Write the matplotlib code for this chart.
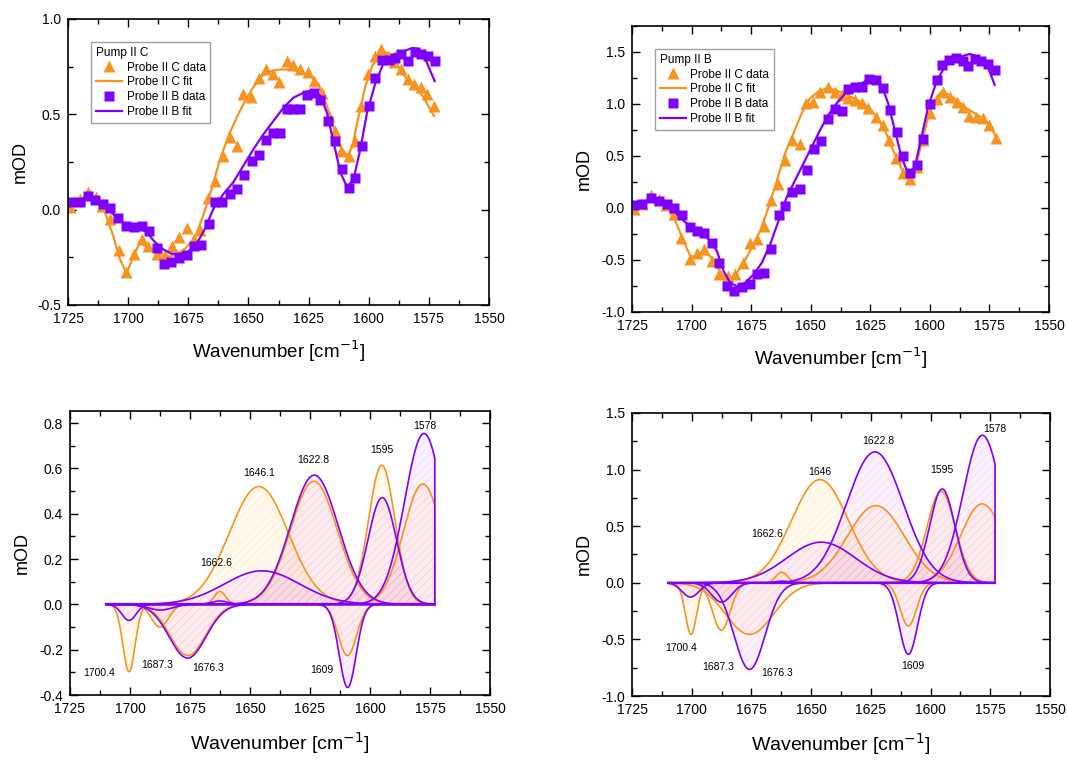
import numpy as np
import matplotlib
matplotlib.use("Agg")
import matplotlib.pyplot as plt
from matplotlib.ticker import MultipleLocator

plt.rcParams['font.family'] = ['Liberation Sans', 'DejaVu Sans']
plt.rcParams['hatch.linewidth'] = 0.5
plt.rcParams['axes.unicode_minus'] = False

ORANGE = '#f7931e'
PURPLE = '#8000ff'

# ---------- top left: Pump II C ----------
tl_c_x = [1724.3, 1720.1, 1716.7, 1713.5, 1710.7, 1707.4, 1703.8, 1700.7, 1697.6, 1694.4,
          1691.7, 1688.2, 1684.7, 1681.7, 1678.9, 1675.7, 1672.6, 1670.1, 1667.0, 1663.9,
          1660.7, 1657.6, 1654.9, 1652.1, 1648.9, 1645.8, 1642.8, 1640.0, 1637.2, 1634.0,
          1631.3, 1628.5, 1625.4, 1622.6, 1619.4, 1616.7, 1614.2, 1611.4, 1608.3, 1605.8,
          1603.1, 1600.4, 1597.6, 1594.9, 1592.0, 1589.3, 1586.5, 1583.6, 1581.0, 1578.2,
          1575.7, 1572.9]
tl_c_y = [0.012, 0.056, 0.09, 0.064, 0.017, -0.052, -0.214, -0.328, -0.232, -0.157,
          -0.19, -0.232, -0.237, -0.19, -0.145, -0.096, -0.153, -0.105, 0.059, 0.152,
          0.282, 0.378, 0.331, 0.608, 0.592, 0.692, 0.735, 0.713, 0.669, 0.779,
          0.756, 0.735, 0.721, 0.674, 0.61, 0.491, 0.413, 0.308, 0.282, 0.361,
          0.544, 0.709, 0.805, 0.84, 0.805, 0.774, 0.735, 0.683, 0.657, 0.645,
          0.605, 0.544]
tl_cfit_x = [1725.0, 1720.1, 1716.7, 1713.2, 1709.7, 1706.3, 1703.5, 1700.7, 1697.9, 1695.1,
             1692.4, 1688.2, 1684.0, 1680.6, 1676.4, 1672.2, 1668.8, 1665.3, 1661.8, 1658.3,
             1654.9, 1651.4, 1647.9, 1644.4, 1641.0, 1636.8, 1632.6, 1628.5, 1624.3, 1620.8,
             1617.4, 1613.9, 1611.1, 1609.0, 1606.9, 1604.2, 1601.4, 1598.6, 1595.1, 1593.1,
             1591.0, 1588.2, 1584.0, 1579.9, 1577.1, 1572.9]
tl_cfit_y = [0.003, 0.047, 0.082, 0.047, -0.014, -0.136, -0.258, -0.336, -0.249, -0.171,
             -0.197, -0.223, -0.249, -0.240, -0.206, -0.145, -0.031, 0.108, 0.265, 0.387,
             0.483, 0.570, 0.645, 0.700, 0.726, 0.735, 0.735, 0.726, 0.700, 0.657,
             0.544, 0.404, 0.317, 0.282, 0.326, 0.491, 0.648, 0.753, 0.814, 0.826,
             0.814, 0.753, 0.683, 0.631, 0.587, 0.491]
tl_b_x = [1723.6, 1720.1, 1716.9, 1713.6, 1710.4, 1707.4, 1704.2, 1700.7, 1697.6, 1694.4,
          1691.3, 1688.2, 1685.0, 1682.0, 1678.8, 1675.7, 1672.6, 1669.7, 1666.4, 1663.9,
          1660.8, 1657.6, 1654.6, 1651.8, 1648.6, 1645.6, 1642.6, 1639.6, 1636.8, 1633.8,
          1631.3, 1628.5, 1625.7, 1622.6, 1620.1, 1617.1, 1614.2, 1611.1, 1608.3, 1605.6,
          1602.8, 1600.0, 1597.2, 1594.4, 1591.7, 1588.9, 1586.4, 1583.8, 1580.8, 1578.1,
          1575.3, 1572.6]
tl_b_y = [0.038, 0.042, 0.073, 0.052, 0.030, 0.007, -0.045, -0.087, -0.092, -0.084,
          -0.115, -0.202, -0.284, -0.275, -0.254, -0.240, -0.193, -0.188, -0.075, 0.042,
          0.042, 0.082, 0.108, 0.183, 0.256, 0.287, 0.364, 0.401, 0.401, 0.526,
          0.530, 0.530, 0.599, 0.613, 0.575, 0.465, 0.361, 0.213, 0.113, 0.164,
          0.334, 0.544, 0.692, 0.784, 0.787, 0.796, 0.814, 0.779, 0.826, 0.814,
          0.805, 0.779]
tl_bfit_x = [1725.0, 1720.1, 1716.7, 1713.2, 1709.0, 1705.1, 1700.7, 1696.5, 1692.4, 1688.9,
             1685.4, 1682.0, 1678.5, 1675.0, 1671.5, 1668.1, 1664.6, 1660.4, 1656.3, 1652.1,
             1647.9, 1643.8, 1639.6, 1635.4, 1631.3, 1627.1, 1622.9, 1620.1, 1617.4, 1614.6,
             1611.8, 1609.0, 1606.3, 1603.5, 1600.7, 1597.2, 1593.8, 1589.6, 1585.4, 1581.9,
             1579.2, 1576.4, 1572.6]
tl_bfit_y = [0.038, 0.052, 0.064, 0.052, 0.012, -0.040, -0.080, -0.092, -0.118, -0.171,
             -0.209, -0.232, -0.232, -0.220, -0.179, -0.101, 0.003, 0.082, 0.143, 0.230,
             0.317, 0.395, 0.465, 0.535, 0.587, 0.613, 0.627, 0.596, 0.509, 0.352,
             0.195, 0.117, 0.160, 0.317, 0.509, 0.666, 0.770, 0.814, 0.831, 0.848,
             0.843, 0.787, 0.674]

# ---------- top right: Pump II B ----------
tr_c_x = [1724.3, 1720.8, 1717.0, 1713.8, 1710.6, 1707.5, 1704.3, 1700.8, 1697.8, 1694.6,
          1691.5, 1688.4, 1684.9, 1681.7, 1678.6, 1675.7, 1672.6, 1669.8, 1666.8, 1663.8,
          1660.8, 1657.7, 1654.7, 1651.9, 1648.9, 1646.1, 1642.9, 1639.8, 1637.0, 1634.2,
          1631.4, 1628.6, 1625.8, 1622.8, 1619.8, 1617.2, 1614.4, 1611.2, 1608.4, 1605.6,
          1602.8, 1600.0, 1597.2, 1594.4, 1591.6, 1588.6, 1586.0, 1583.5, 1580.7, 1577.9,
          1575.1, 1572.3]
tr_c_y = [-0.01, 0.039, 0.126, 0.087, 0.029, -0.058, -0.284, -0.494, -0.429, -0.397,
          -0.510, -0.639, -0.655, -0.639, -0.526, -0.332, -0.294, -0.171, 0.077, 0.232,
          0.458, 0.658, 0.619, 1.013, 1.023, 1.119, 1.161, 1.119, 1.087, 1.055,
          1.039, 1.006, 0.965, 0.877, 0.797, 0.652, 0.484, 0.335, 0.281, 0.394,
          0.652, 0.910, 1.045, 1.119, 1.071, 1.023, 0.974, 0.884, 0.871, 0.861,
          0.797, 0.677]
tr_cfit_x = [1725.0, 1720.8, 1717.3, 1713.8, 1710.3, 1706.8, 1703.4, 1700.6, 1697.8, 1695.0,
             1692.2, 1689.4, 1686.6, 1683.8, 1681.0, 1678.2, 1674.7, 1671.2, 1667.7, 1664.2,
             1660.8, 1657.3, 1653.8, 1650.3, 1646.8, 1643.3, 1639.8, 1636.3, 1632.8, 1629.3,
             1625.8, 1622.3, 1618.9, 1615.4, 1611.9, 1609.1, 1606.3, 1603.5, 1600.7, 1597.9,
             1595.1, 1591.6, 1588.1, 1584.6, 1581.1, 1577.6, 1574.8, 1572.3]
tr_cfit_y = [0.006, 0.045, 0.097, 0.071, 0.006, -0.123, -0.316, -0.461, -0.471, -0.429,
             -0.461, -0.558, -0.655, -0.687, -0.623, -0.526, -0.381, -0.219, 0.006, 0.265,
             0.523, 0.716, 0.910, 1.055, 1.119, 1.152, 1.135, 1.103, 1.065, 1.023,
             0.968, 0.877, 0.748, 0.555, 0.377, 0.281, 0.361, 0.619, 0.877, 1.039,
             1.119, 1.087, 1.023, 0.958, 0.910, 0.861, 0.797, 0.684]
tr_b_x = [1724.3, 1720.8, 1717.0, 1713.8, 1710.3, 1707.3, 1704.1, 1700.8, 1697.8, 1694.6,
          1691.5, 1688.3, 1685.2, 1682.0, 1678.9, 1675.7, 1672.6, 1669.8, 1666.8, 1663.5,
          1660.8, 1657.7, 1654.7, 1651.7, 1648.6, 1645.8, 1642.9, 1639.8, 1637.0, 1634.2,
          1631.4, 1628.4, 1625.4, 1622.6, 1619.8, 1616.8, 1613.9, 1611.2, 1608.4, 1605.6,
          1602.8, 1600.0, 1597.2, 1594.7, 1591.9, 1589.1, 1586.3, 1583.9, 1581.1, 1578.4,
          1575.6, 1572.8]
tr_b_y = [0.032, 0.039, 0.094, 0.071, 0.039, 0.0, -0.065, -0.187, -0.226, -0.245,
          -0.332, -0.532, -0.752, -0.794, -0.758, -0.729, -0.639, -0.626, -0.397, -0.065,
          0.023, 0.152, 0.184, 0.361, 0.571, 0.642, 0.852, 0.952, 0.932, 1.145,
          1.161, 1.168, 1.239, 1.232, 1.152, 0.942, 0.726, 0.497, 0.339, 0.410,
          0.668, 0.997, 1.232, 1.377, 1.426, 1.442, 1.410, 1.361, 1.432, 1.410,
          1.387, 1.323]
tr_bfit_x = [1725.0, 1720.8, 1717.3, 1713.8, 1710.3, 1706.8, 1703.4, 1699.9, 1696.4, 1692.9,
             1689.4, 1686.6, 1683.8, 1681.0, 1677.5, 1674.0, 1670.5, 1667.0, 1663.5, 1660.1,
             1656.6, 1653.1, 1649.6, 1646.1, 1642.6, 1639.1, 1634.9, 1630.7, 1626.5, 1623.0,
             1620.3, 1617.5, 1614.7, 1611.9, 1609.1, 1606.3, 1603.5, 1600.7, 1597.2, 1593.7,
             1590.2, 1586.7, 1583.2, 1579.8, 1576.3, 1572.8]
tr_bfit_y = [0.032, 0.045, 0.094, 0.065, 0.023, -0.042, -0.123, -0.187, -0.235, -0.300,
             -0.413, -0.606, -0.719, -0.752, -0.719, -0.639, -0.526, -0.348, -0.123, 0.103,
             0.265, 0.426, 0.587, 0.748, 0.894, 1.006, 1.119, 1.174, 1.226, 1.232,
             1.184, 1.006, 0.748, 0.490, 0.329, 0.394, 0.684, 0.974, 1.216, 1.361,
             1.426, 1.458, 1.481, 1.458, 1.394, 1.184]

# ---------- bottom: band components (centre, amplitude, FWHM) ----------
band_labels_l = ['1700.4', '1687.3', '1676.3', '1662.6', '1646.1', '1622.8', '1609', '1595', '1578']
band_labels_r = ['1700.4', '1687.3', '1676.3', '1662.6', '1646', '1622.8', '1609', '1595', '1578']

bl_c_pos = [1700.4, 1687.5, 1675.9, 1662.5, 1646.3, 1623.4, 1609.4, 1595.1, 1578.0]
bl_c_amp = [-0.297, -0.10, -0.226, 0.057, 0.52, 0.543, -0.226, 0.614, 0.531]
bl_c_fwhm = [6.0, 8.5, 17.5, 5.5, 29.0, 23.0, 9.0, 13.0, 19.0]
bl_b_pos = [1700.4, 1687.3, 1676.0, 1662.6, 1645.0, 1623.2, 1609.3, 1594.9, 1577.5]
bl_b_amp = [-0.071, -0.025, -0.237, 0.015, 0.148, 0.570, -0.367, 0.471, 0.754]
bl_b_fwhm = [7.0, 12.0, 18.0, 8.0, 37.0, 23.5, 8.3, 14.0, 19.0]

br_c_pos = [1700.3, 1687.6, 1675.8, 1662.3, 1646.3, 1622.9, 1609.3, 1595.6, 1578.4]
br_c_amp = [-0.456, -0.418, -0.456, 0.094, 0.912, 0.682, -0.382, 0.809, 0.697]
br_c_fwhm = [5.6, 8.8, 23.7, 5.6, 28.0, 28.0, 8.1, 14.0, 21.0]
br_b_pos = [1700.5, 1687.5, 1675.8, 1662.3, 1645.8, 1623.3, 1609.3, 1595.1, 1578.3]
br_b_amp = [-0.126, -0.171, -0.765, 0.015, 0.359, 1.156, -0.632, 0.829, 1.303]
br_b_fwhm = [8.4, 10.0, 15.3, 6.0, 34.0, 28.0, 9.0, 12.5, 19.0]

# label positions (wavenumber, mOD)
bl_lab_x = [1712.8, 1688.5, 1667.4, 1663.9, 1646.1, 1623.6, 1620.1, 1595.1, 1577.1]
bl_lab_y = [-0.305, -0.269, -0.279, 0.181, 0.580, 0.636, -0.290, 0.682, 0.787]
br_lab_x = [1704.4, 1688.8, 1664.3, 1668.5, 1646.2, 1621.9, 1607.6, 1595.3, 1573.0]
br_lab_y = [-0.574, -0.741, -0.800, 0.435, 0.979, 1.256, -0.735, 0.994, 1.359]

band_start, band_end = 1710.0, 1573.0


def style_axes(ax, ylim, major, minor):
    ax.set_xlim(1725, 1550)
    ax.set_ylim(*ylim)
    ax.xaxis.set_major_locator(MultipleLocator(25))
    ax.xaxis.set_minor_locator(MultipleLocator(12.5))
    ax.yaxis.set_major_locator(MultipleLocator(major))
    ax.yaxis.set_minor_locator(MultipleLocator(minor))
    ax.tick_params(which='both', direction='in', top=True, right=True, labelsize=10)
    ax.tick_params(which='major', length=6, width=1, pad=5)
    ax.tick_params(which='minor', length=3.5, width=1)
    for s in ax.spines.values():
        s.set_linewidth(1.2)
    ax.set_ylabel('mOD', fontsize=13, labelpad=6)


def top_panel(ax, title, cx, cy, cfx, cfy, bx, by, bfx, bfy, ylim, major, minor):
    ax.plot(cx, cy, '^', color=ORANGE, ms=8, mec='none', label='Probe II C data')
    ax.plot(cfx, cfy, '-', color=ORANGE, lw=1.6, label='Probe II C fit')
    ax.plot(bx, by, 's', color=PURPLE, ms=6.5, mec='none', label='Probe II B data')
    ax.plot(bfx, bfy, '-', color=PURPLE, lw=1.6, label='Probe II B fit')
    style_axes(ax, ylim, major, minor)
    leg = ax.legend(title=title, loc='upper left', bbox_to_anchor=(0.055, 0.92),
                    fontsize=8.5, title_fontsize=8.5, alignment='left', fancybox=False,
                    edgecolor='#888888', handlelength=2.2, borderpad=0.4,
                    labelspacing=0.25, handletextpad=0.4, borderaxespad=0)
    leg.get_frame().set_linewidth(1.0)
    ax.set_xlabel('Wavenumber [cm$^{-1}$]', fontsize=13.5, labelpad=9)


def band_panel(ax, cpos, camp, cfw, bpos, bamp, bfw, labels, lx, ly, ylim, major, minor):
    x = np.linspace(band_start, band_end, 600)
    comps = [(p, a, f, ORANGE, (1.0, 0.82, 0.4)) for p, a, f in zip(cpos, camp, cfw)]
    comps += [(p, a, f, PURPLE, (0.88, 0.5, 0.95)) for p, a, f in zip(bpos, bamp, bfw)]
    for pos, amp, fw, col, face in comps:
        sig = fw / 2.3548
        y = amp * np.exp(-0.5 * ((x - pos) / sig) ** 2)
        ax.fill_between(x, y, 0, facecolor=face + (0.11,), edgecolor=face + (0.22,),
                        hatch='////', linewidth=0)
        ax.plot(np.r_[x, x[-1]], np.r_[y, 0], color=col, lw=1.2)
    ax.plot([band_start, band_end], [0, 0], color=ORANGE, lw=1.2)
    ax.plot([band_start, band_end], [0, 0], color=PURPLE, lw=1.6)
    for t, xx, yy in zip(labels, lx, ly):
        ax.text(xx, yy, t, fontsize=7.5, ha='center', va='center')
    style_axes(ax, ylim, major, minor)
    ax.set_xlabel('Wavenumber [cm$^{-1}$]', fontsize=14, labelpad=10)


fig = plt.figure(figsize=(10.68, 7.6), dpi=100)
ax1 = fig.add_axes([0.0637, 0.599, 0.3942, 0.376])
ax2 = fig.add_axes([0.5918, 0.5895, 0.3904, 0.3763])
ax3 = fig.add_axes([0.0655, 0.0855, 0.3933, 0.3737])
ax4 = fig.add_axes([0.5918, 0.0842, 0.3913, 0.3724])

top_panel(ax1, 'Pump II C', tl_c_x, tl_c_y, tl_cfit_x, tl_cfit_y, tl_b_x, tl_b_y,
          tl_bfit_x, tl_bfit_y, (-0.5, 1.0), 0.5, 0.25)
top_panel(ax2, 'Pump II B', tr_c_x, tr_c_y, tr_cfit_x, tr_cfit_y, tr_b_x, tr_b_y,
          tr_bfit_x, tr_bfit_y, (-1.0, 1.75), 0.5, 0.25)
band_panel(ax3, bl_c_pos, bl_c_amp, bl_c_fwhm, bl_b_pos, bl_b_amp, bl_b_fwhm,
           band_labels_l, bl_lab_x, bl_lab_y, (-0.4, 0.853), 0.2, 0.1)
band_panel(ax4, br_c_pos, br_c_amp, br_c_fwhm, br_b_pos, br_b_amp, br_b_fwhm,
           band_labels_r, br_lab_x, br_lab_y, (-1.0, 1.5), 0.5, 0.25)

fig.savefig('out.png', dpi=100)
